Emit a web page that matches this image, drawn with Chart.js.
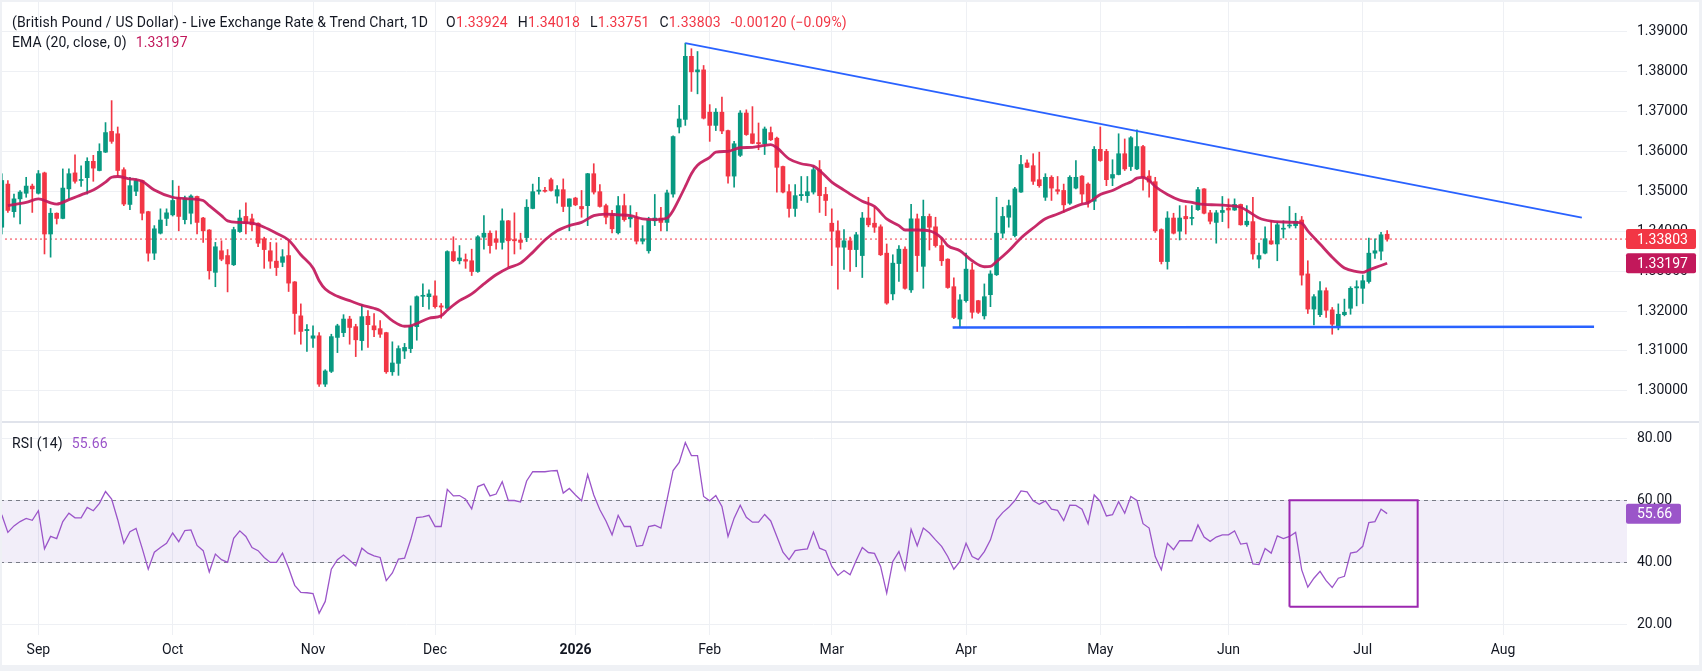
<!DOCTYPE html>
<html>
<head>
<meta charset="utf-8">
<script src="https://cdn.jsdelivr.net/npm/chart.js@4.4.0/dist/chart.umd.min.js"></script>
<style>
    body { margin: 0; background: #fff; font-family: Roboto, sans-serif; }
    #wrap { position: relative; width: 1702px; height: 671px; overflow: hidden; background: #fff; }
    #wrap canvas { position: absolute; left: 0; }
    #price { top: 0; }
    #rsi { top: 421px; }
    .legend { position: absolute; left: 12px; font-size: 14px; line-height: 18px; color: #131722; white-space: pre; letter-spacing: 0.15px; }
    .red { color: #f23645; }
    .ema { color: #c2185b; }
    .purple { color: #9b55c9; }
    .g { margin-left: 10px; }
    #frame { position: absolute; inset: 0; border: solid #eff1f5; border-width: 2px 3px 6px 2px; pointer-events: none; }
</style>
</head>
<body>
<div id="wrap">
    <canvas id="price" width="1702" height="421"></canvas>
    <canvas id="rsi" width="1702" height="250"></canvas>
    <div class="legend" style="top:13px">(British Pound / US Dollar) - Live Exchange Rate &amp; Trend Chart, 1D<span style="margin-left:18px">O<span class="red">1.33924</span></span><span class="g">H<span class="red">1.34018</span></span><span class="g">L<span class="red">1.33751</span></span><span class="g">C<span class="red">1.33803</span></span><span class="g red">-0.00120 (−0.09%)</span></div>
    <div class="legend" style="top:33px">EMA (20, close, 0)<span class="ema" style="margin-left:9px">1.33197</span></div>
    <div class="legend" style="top:434px">RSI (14)<span class="purple" style="margin-left:9px">55.66</span></div>
    <div id="frame"></div>
</div>
<script>
// bar index 0 = 1 Sep 2025, one bar per weekday
const firstBar = -6;
const monthTicks = [0, 22, 45, 65, 88, 110, 130, 152, 174, 195, 217, 240];
const monthLabels = ['Sep', 'Oct', 'Nov', 'Dec', '2026', 'Feb', 'Mar', 'Apr', 'May', 'Jun', 'Jul', 'Aug'];
const priceTicks = [1.30, 1.31, 1.32, 1.33, 1.34, 1.35, 1.36, 1.37, 1.38, 1.39];
const rsiTicks = [20, 40, 60, 80];

const opens = [
    1.3410,1.3518,1.3449,1.3481,1.3495,1.3513,1.3495,1.3546,1.3393,1.3445,
    1.3432,1.3506,1.3546,1.3527,1.3534,1.3575,1.3552,1.3598,1.3650,1.3644,
    1.3554,1.3467,1.3500,1.3527,1.3449,1.3345,1.3395,1.3432,1.3441,1.3483,
    1.3429,1.3445,1.3487,1.3433,1.3403,1.3297,1.3351,1.3339,1.3316,1.3399,
    1.3437,1.3431,1.3420,1.3381,1.3351,1.3325,1.3322,1.3339,1.3273,1.3188,
    1.3151,1.3132,1.3138,1.3017,1.3049,1.3134,1.3146,1.3180,1.3161,1.3126,
    1.3187,1.3163,1.3156,1.3146,1.3048,1.3069,1.3100,1.3106,1.3161,1.3237,
    1.3236,1.3238,1.3213,1.3207,1.3349,1.3326,1.3329,1.3326,1.3299,1.3385,
    1.3395,1.3381,1.3372,1.3426,1.3379,1.3378,1.3384,1.3457,1.3500,1.3502,
    1.3529,1.3488,1.3504,1.3462,1.3483,1.3462,1.3464,1.3544,1.3499,1.3464,
    1.3441,1.3396,1.3464,1.3431,1.3433,1.3375,1.3351,1.3426,1.3433,1.3422,
    1.3493,1.3661,1.3680,1.3838,1.3799,1.3804,1.3698,1.3665,1.3698,1.3652,
    1.3538,1.3590,1.3696,1.3644,1.3622,1.3619,1.3647,1.3633,1.3562,1.3499,
    1.3457,1.3489,1.3489,1.3498,1.3554,1.3492,1.3420,1.3401,1.3360,1.3376,
    1.3354,1.3339,1.3433,1.3420,1.3411,1.3345,1.3243,1.3319,1.3355,1.3253,
    1.3431,1.3312,1.3437,1.3411,1.3364,1.3330,1.3261,1.3180,1.3226,1.3303,
    1.3226,1.3188,1.3241,1.3291,1.3395,1.3435,1.3389,1.3498,1.3571,1.3564,
    1.3529,1.3485,1.3535,1.3504,1.3502,1.3470,1.3508,1.3538,1.3518,1.3475,
    1.3605,1.3600,1.3533,1.3542,1.3594,1.3562,1.3556,1.3612,1.3538,1.3524,
    1.3404,1.3324,1.3433,1.3400,1.3437,1.3432,1.3454,1.3506,1.3446,1.3422,
    1.3447,1.3458,1.3453,1.3467,1.3416,1.3424,1.3330,1.3345,1.3376,1.3368,
    1.3405,1.3413,1.3414,1.3428,1.3293,1.3205,1.3191,1.3251,1.3203,1.3163,
    1.3191,1.3207,1.3258,1.3257,1.3274,1.3345,1.3350,1.33924
];
const highs = [
    1.3544,1.3527,1.3493,1.3502,1.3535,1.3518,1.3552,1.3548,1.3457,1.3446,
    1.3556,1.3556,1.3591,1.3564,1.3584,1.3590,1.3619,1.3672,1.3727,1.3661,
    1.3559,1.3535,1.3531,1.3528,1.3450,1.3414,1.3456,1.3456,1.3527,1.3513,
    1.3488,1.3491,1.3488,1.3435,1.3404,1.3372,1.3376,1.3354,1.3410,1.3453,
    1.3471,1.3443,1.3421,1.3385,1.3372,1.3371,1.3354,1.3376,1.3274,1.3218,
    1.3166,1.3163,1.3146,1.3053,1.3142,1.3167,1.3191,1.3187,1.3167,1.3216,
    1.3201,1.3194,1.3176,1.3147,1.3123,1.3113,1.3119,1.3213,1.3238,1.3268,
    1.3253,1.3276,1.3219,1.3351,1.3386,1.3364,1.3343,1.3355,1.3389,1.3439,
    1.3401,1.3401,1.3456,1.3427,1.3446,1.3395,1.3479,1.3518,1.3535,1.3510,
    1.3533,1.3514,1.3531,1.3481,1.3485,1.3502,1.3545,1.3569,1.3517,1.3468,
    1.3452,1.3487,1.3493,1.3464,1.3447,1.3414,1.3435,1.3492,1.3460,1.3503,
    1.3639,1.3715,1.3871,1.3857,1.3850,1.3815,1.3717,1.3707,1.3736,1.3653,
    1.3625,1.3702,1.3704,1.3712,1.3671,1.3661,1.3661,1.3636,1.3563,1.3517,
    1.3517,1.3537,1.3537,1.3564,1.3577,1.3510,1.3456,1.3426,1.3404,1.3385,
    1.3397,1.3447,1.3485,1.3460,1.3416,1.3368,1.3341,1.3364,1.3361,1.3467,
    1.3443,1.3478,1.3443,1.3435,1.3381,1.3331,1.3283,1.3241,1.3345,1.3320,
    1.3227,1.3268,1.3301,1.3485,1.3460,1.3478,1.3510,1.3590,1.3579,1.3594,
    1.3598,1.3544,1.3539,1.3537,1.3518,1.3539,1.3577,1.3539,1.3521,1.3612,
    1.3661,1.3605,1.3579,1.3644,1.3631,1.3637,1.3654,1.3615,1.3552,1.3535,
    1.3406,1.3449,1.3445,1.3464,1.3464,1.3464,1.3510,1.3507,1.3452,1.3452,
    1.3487,1.3481,1.3481,1.3468,1.3464,1.3485,1.3370,1.3411,1.3426,1.3422,
    1.3426,1.3462,1.3445,1.3437,1.3326,1.3241,1.3274,1.3258,1.3209,1.3218,
    1.3230,1.3261,1.3276,1.3290,1.3383,1.3381,1.3397,1.34018
];
const lows = [
    1.3393,1.3447,1.3435,1.3418,1.3485,1.3447,1.3493,1.3343,1.3335,1.3418,
    1.3431,1.3481,1.3520,1.3512,1.3493,1.3525,1.3551,1.3597,1.3620,1.3539,
    1.3464,1.3454,1.3489,1.3428,1.3325,1.3329,1.3393,1.3414,1.3438,1.3401,
    1.3418,1.3418,1.3393,1.3372,1.3280,1.3261,1.3326,1.3248,1.3314,1.3397,
    1.3393,1.3401,1.3361,1.3307,1.3307,1.3289,1.3311,1.3249,1.3142,1.3117,
    1.3099,1.3109,1.3011,1.3011,1.3046,1.3096,1.3136,1.3117,1.3086,1.3102,
    1.3109,1.3136,1.3134,1.3044,1.3039,1.3039,1.3081,1.3096,1.3127,1.3211,
    1.3205,1.3207,1.3182,1.3205,1.3324,1.3318,1.3307,1.3289,1.3297,1.3355,
    1.3345,1.3355,1.3355,1.3311,1.3343,1.3355,1.3374,1.3456,1.3493,1.3498,
    1.3500,1.3470,1.3449,1.3401,1.3464,1.3435,1.3414,1.3493,1.3460,1.3418,
    1.3396,1.3393,1.3425,1.3410,1.3368,1.3368,1.3345,1.3414,1.3401,1.3401,
    1.3485,1.3646,1.3665,1.3750,1.3744,1.3681,1.3625,1.3652,1.3644,1.3520,
    1.3510,1.3587,1.3640,1.3619,1.3604,1.3592,1.3627,1.3498,1.3496,1.3435,
    1.3437,1.3477,1.3472,1.3493,1.3447,1.3439,1.3314,1.3255,1.3304,1.3299,
    1.3311,1.3284,1.3411,1.3397,1.3339,1.3217,1.3228,1.3274,1.3255,1.3247,
    1.3299,1.3257,1.3353,1.3360,1.3314,1.3257,1.3181,1.3159,1.3222,1.3182,
    1.3194,1.3180,1.3211,1.3289,1.3383,1.3410,1.3386,1.3497,1.3559,1.3517,
    1.3510,1.3477,1.3477,1.3493,1.3447,1.3467,1.3506,1.3470,1.3460,1.3454,
    1.3575,1.3514,1.3514,1.3541,1.3552,1.3552,1.3554,1.3503,1.3485,1.3397,
    1.3318,1.3305,1.3393,1.3378,1.3393,1.3416,1.3452,1.3443,1.3418,1.3370,
    1.3424,1.3408,1.3452,1.3415,1.3412,1.3330,1.3308,1.3343,1.3367,1.3326,
    1.3383,1.3408,1.3408,1.3265,1.3194,1.3165,1.3186,1.3184,1.3142,1.3153,
    1.3188,1.3192,1.3213,1.3219,1.3270,1.3332,1.3328,1.33751
];
const closes = [
    1.3527,1.3452,1.3481,1.3498,1.3513,1.3506,1.3544,1.3393,1.3445,1.3432,
    1.3508,1.3544,1.3525,1.3529,1.3575,1.3558,1.3600,1.3647,1.3625,1.3552,
    1.3468,1.3514,1.3527,1.3445,1.3345,1.3406,1.3428,1.3446,1.3477,1.3437,
    1.3483,1.3488,1.3422,1.3401,1.3301,1.3361,1.3330,1.3318,1.3404,1.3433,
    1.3420,1.3416,1.3370,1.3354,1.3325,1.3309,1.3336,1.3270,1.3194,1.3149,
    1.3154,1.3138,1.3017,1.3050,1.3136,1.3163,1.3180,1.3159,1.3128,1.3186,
    1.3166,1.3153,1.3142,1.3048,1.3070,1.3106,1.3109,1.3163,1.3236,1.3239,
    1.3243,1.3211,1.3210,1.3349,1.3326,1.3333,1.3325,1.3299,1.3386,1.3395,
    1.3364,1.3372,1.3426,1.3376,1.3376,1.3372,1.3460,1.3499,1.3503,1.3500,
    1.3502,1.3504,1.3462,1.3481,1.3466,1.3456,1.3544,1.3498,1.3462,1.3435,
    1.3406,1.3464,1.3429,1.3435,1.3375,1.3381,1.3429,1.3433,1.3422,1.3496,
    1.3637,1.3681,1.3838,1.3799,1.3804,1.3683,1.3665,1.3698,1.3651,1.3538,
    1.3619,1.3696,1.3642,1.3620,1.3619,1.3656,1.3629,1.3560,1.3498,1.3457,
    1.3489,1.3492,1.3499,1.3554,1.3489,1.3477,1.3400,1.3360,1.3376,1.3354,
    1.3391,1.3433,1.3416,1.3410,1.3341,1.3220,1.3320,1.3355,1.3257,1.3431,
    1.3339,1.3437,1.3410,1.3364,1.3326,1.3259,1.3184,1.3228,1.3305,1.3197,
    1.3197,1.3236,1.3293,1.3395,1.3437,1.3464,1.3506,1.3567,1.3560,1.3525,
    1.3514,1.3535,1.3508,1.3500,1.3466,1.3535,1.3535,1.3493,1.3474,1.3605,
    1.3577,1.3529,1.3542,1.3594,1.3556,1.3634,1.3612,1.3535,1.3523,1.3401,
    1.3324,1.3433,1.3395,1.3433,1.3431,1.3434,1.3504,1.3445,1.3425,1.3446,
    1.3452,1.3453,1.3467,1.3416,1.3425,1.3343,1.3339,1.3381,1.3368,1.3416,
    1.3406,1.3415,1.3425,1.3290,1.3205,1.3236,1.3251,1.3202,1.3167,1.3192,
    1.3197,1.3257,1.3261,1.3276,1.3345,1.3351,1.3391,1.33803
];

// EMA(20)
const emaBars = [-5,-2,0,2,3,5,7,9,11,12,13,15,16,17,19,22,25,27,28,30,31,33,35,37,39,41,43,45,46,47,49,51,53,55,56,58,60,61,62,64,66,67,69,71,73,75,77,79,81,83,85,87,89,91,93,95,97,99,101,103,104,105,106,107,108,110,111,113,115,117,119,120,121,123,125,127,128,130,132,133,135,137,139,141,142,144,146,148,149,151,153,155,156,157,159,161,163,165,167,169,171,172,174,176,178,179,180,181,182,183,185,187,189,191,193,195,197,198,200,202,204,206,207,208,210,212,214,216,217,218,220,221];
const emaValues = [1.3464,1.3472,1.3481,1.3471,1.3468,1.3479,1.3491,1.3503,1.3523,1.3535,1.3537,1.3531,1.3529,1.3525,1.3503,1.3485,1.3481,1.3477,1.3464,1.3439,1.3426,1.3422,1.3420,1.3410,1.3395,1.3378,1.3341,1.3308,1.3276,1.3255,1.3237,1.3226,1.3215,1.3207,1.3201,1.3176,1.3162,1.3163,1.3169,1.3182,1.3188,1.3202,1.3226,1.3243,1.3268,1.3291,1.3308,1.3320,1.3347,1.3378,1.3401,1.3414,1.3422,1.3439,1.3443,1.3441,1.3439,1.3431,1.3429,1.3433,1.3452,1.3481,1.3512,1.3544,1.3565,1.3585,1.3598,1.3600,1.3609,1.3610,1.3615,1.3617,1.3609,1.3581,1.3569,1.3563,1.3552,1.3523,1.3503,1.3493,1.3475,1.3462,1.3431,1.3414,1.3403,1.3403,1.3401,1.3383,1.3364,1.3351,1.3326,1.3311,1.3312,1.3324,1.3351,1.3383,1.3408,1.3431,1.3443,1.3456,1.3468,1.3471,1.3492,1.3502,1.3517,1.3523,1.3533,1.3535,1.3527,1.3512,1.3492,1.3478,1.3472,1.3467,1.3466,1.3464,1.3460,1.3452,1.3433,1.3425,1.3423,1.3422,1.3420,1.3401,1.3368,1.3335,1.3308,1.3299,1.3297,1.3303,1.3314,1.33197];

const rsiValues = [
    55.3,49.6,51.7,53.1,54.1,53.5,56.6,44.3,48.3,47.6,
    53.1,55.8,54.3,54.3,57.7,56.6,59.0,62.8,60.4,53.7,
    46.1,49.8,50.9,44.5,37.7,43.2,44.7,46.1,49.4,46.6,
    50.2,50.4,45.4,43.7,36.8,42.6,40.8,39.9,47.7,50.1,
    48.3,44.7,43.7,41.5,39.9,39.9,42.9,38.1,32.5,30.2,
    30.1,29.8,23.5,27.3,37.7,40.8,42.3,40.6,38.8,44.5,
    42.9,42.0,41.5,34.0,36.5,41.0,41.3,47.2,54.4,54.6,
    55.1,51.5,51.5,63.5,61.4,61.5,60.3,57.2,64.4,65.2,
    61.4,62.0,66.0,59.9,59.9,59.4,66.2,69.2,69.2,69.2,
    69.5,69.6,62.3,63.8,61.7,59.8,68.3,61.7,56.9,53.3,
    48.8,55.1,51.5,51.5,45.1,45.4,51.5,51.9,51.0,60.1,
    69.6,72.2,78.6,74.4,74.4,61.2,59.8,61.5,58.0,48.3,
    54.2,58.4,54.5,52.9,52.9,55.4,53.3,48.3,43.2,40.8,
    43.7,44.0,44.3,49.7,44.5,43.7,38.6,35.7,37.3,35.9,
    40.5,44.7,43.1,42.8,38.6,30.0,40.2,43.4,37.5,50.6,
    45.3,51.0,49.4,47.2,45.1,41.8,37.7,40.2,46.1,41.8,
    40.8,43.4,47.2,53.7,56.0,57.7,59.9,63.0,62.7,59.8,
    58.7,59.8,57.1,56.7,53.4,58.4,58.3,57.1,52.4,61.7,
    59.6,54.9,55.3,59.5,55.8,61.2,59.9,52.4,51.0,41.8,
    37.5,46.1,44.0,46.9,46.9,46.9,52.0,48.1,46.7,48.1,
    48.8,48.8,50.1,45.8,46.1,39.4,39.2,44.4,42.9,48.5,
    47.6,48.3,49.6,37.5,31.9,34.8,37.0,34.0,31.8,34.8,
    35.4,42.9,43.3,45.1,52.8,53.1,57.1,55.66
];

// drawings
const upperTrendBars = [106, 252.9];
const upperTrendValues = [1.3871, 1.3434];
const lowerTrendBars = [149.8, 254.9];
const lowerTrendValues = [1.3159, 1.3161];
const rsiBoxBars = [205, 226, 226, 205, 205];
const rsiBoxValues = [25.6, 25.6, 60, 60, 25.6];
const rsiBand = [40, 60];

const lastClose = 1.33803;
const lastEma = 1.33197;
const lastRsi = 55.66;

const GREEN = '#089981';
const RED = '#f23645';
const EMA_COLOR = '#c2185b';
const RSI_COLOR = '#9b55c9';
const GRID = '#eef0f4';
const TEXT = '#131722';
const FONT = { family: 'Roboto', size: 14 };
const X_MIN = -6.29, X_MAX = 260.3;

function candleColor(k) {
    return closes[k] >= opens[k] ? GREEN : RED;
}

function points(xs, ys) {
    return xs.map((x, k) => ({ x: x, y: ys[k] }));
}

function timeAxis(withLabels) {
    return {
        type: 'linear',
        min: X_MIN,
        max: X_MAX,
        offset: false,
        grid: { color: GRID, drawTicks: false, offset: false },
        border: { display: false },
        afterBuildTicks: s => { s.ticks = monthTicks.map(v => ({ value: v })); },
        ticks: {
            display: withLabels,
            autoSkip: false,
            maxRotation: 0,
            padding: 7,
            color: TEXT,
            font: c => ({ family: 'Roboto', size: 14, weight: monthLabels[c.index] === '2026' ? 'bold' : 'normal' }),
            callback: (v, i) => monthLabels[i],
        },
        afterFit: s => {
            s.height = withLabels ? 36 : 0;
            s.paddingLeft = 0;
            s.paddingRight = 0;
        },
    };
}

function valueAxis(min, max, ticks, digits) {
    return {
        position: 'right',
        min: min,
        max: max,
        grid: { color: GRID, drawTicks: false },
        border: { display: false },
        afterBuildTicks: s => { s.ticks = ticks.map(v => ({ value: v })); },
        ticks: { padding: 10, color: TEXT, font: FONT, callback: v => v.toFixed(digits) },
        afterFit: s => {
            s.width = 75;
            s.paddingTop = 0;
            s.paddingBottom = 0;
        },
    };
}

function drawTag(ctx, scale, value, color, width, digits) {
    let y = scale.getPixelForValue(value);
    ctx.save();
    ctx.fillStyle = color;
    ctx.beginPath();
    ctx.roundRect(scale.left - 1, y - 10, width, 20, 2);
    ctx.fill();
    ctx.fillStyle = '#fff';
    ctx.font = '14px Roboto';
    ctx.textBaseline = 'middle';
    ctx.fillText(value.toFixed(digits), scale.left + 10, y + 1);
    ctx.restore();
}

const priceTags = {
    id: 'priceTags',
    afterDraw(chart) {
        drawTag(chart.ctx, chart.scales.y, lastClose, RED, 70, 5);
        drawTag(chart.ctx, chart.scales.y, lastEma, EMA_COLOR, 70, 5);
    }
};

const rsiDecor = {
    id: 'rsiDecor',
    beforeDatasetsDraw(chart) {
        let { ctx, chartArea: a, scales: { y } } = chart;
        let top = Math.round(y.getPixelForValue(rsiBand[1])) + 0.5;
        let bot = Math.round(y.getPixelForValue(rsiBand[0])) + 0.5;
        ctx.save();
        ctx.fillStyle = 'rgba(126,87,194,0.1)';
        ctx.fillRect(a.left, top, a.right - a.left, bot - top);
        ctx.strokeStyle = '#787b86';
        ctx.lineWidth = 1;
        ctx.setLineDash([4, 4]);
        [top, bot].forEach(py => {
            ctx.beginPath();
            ctx.moveTo(a.left, py);
            ctx.lineTo(a.right, py);
            ctx.stroke();
        });
        ctx.restore();
    },
    afterDraw(chart) {
        let ctx = chart.ctx;
        ctx.save();
        ctx.fillStyle = '#e0e3eb';
        ctx.fillRect(0, 0, chart.width, 2);
        ctx.restore();
        drawTag(ctx, chart.scales.y, lastRsi, RSI_COLOR, 55, 2);
    }
};

const common = {
    responsive: false,
    maintainAspectRatio: false,
    animation: false,
    events: [],
    layout: { padding: 0 },
    plugins: { legend: { display: false }, tooltip: { enabled: false } },
};

let bodies = opens.map((o, k) => ({ x: firstBar + k, y: [o, closes[k]] }));
let wicks = highs.map((h, k) => ({ x: firstBar + k, y: [lows[k], h] }));

new Chart(document.getElementById('price'), {
    type: 'bar',
    data: {
        datasets: [
            {
                type: 'line',
                label: 'Upper trend',
                data: points(upperTrendBars, upperTrendValues),
                borderColor: '#2962ff',
                borderWidth: 2,
                pointRadius: 0,
                order: -3,
            },
            {
                type: 'line',
                label: 'Lower trend',
                data: points(lowerTrendBars, lowerTrendValues),
                borderColor: '#2962ff',
                borderWidth: 2.5,
                pointRadius: 0,
                order: -3,
            },
            {
                type: 'line',
                label: 'EMA',
                data: points(emaBars, emaValues),
                borderColor: 'rgba(194,24,91,0.92)',
                borderWidth: 2.8,
                pointRadius: 0,
                cubicInterpolationMode: 'monotone',
                order: -2,
            },
            {
                label: 'Body',
                data: bodies,
                backgroundColor: c => candleColor(c.dataIndex),
                barThickness: 4,
                minBarLength: 1,
                grouped: false,
                order: 0,
            },
            {
                label: 'Wick',
                data: wicks,
                backgroundColor: c => candleColor(c.dataIndex),
                barThickness: 1,
                grouped: false,
                order: 1,
            },
            {
                type: 'line',
                label: 'Last',
                data: points([X_MIN, X_MAX], [lastClose, lastClose]),
                borderColor: RED,
                borderWidth: 1,
                borderDash: [2, 3],
                pointRadius: 0,
                order: 2,
            },
        ],
    },
    options: Object.assign({}, common, {
        scales: {
            x: timeAxis(false),
            y: valueAxis(1.29247, 1.3979, priceTicks, 5),
        },
    }),
    plugins: [priceTags],
});

new Chart(document.getElementById('rsi'), {
    type: 'line',
    data: {
        datasets: [
            {
                label: 'Box',
                data: points(rsiBoxBars, rsiBoxValues),
                borderColor: '#9c27b0',
                borderWidth: 2,
                pointRadius: 0,
                order: -1,
            },
            {
                label: 'RSI',
                data: rsiValues.map((v, k) => ({ x: firstBar + k, y: v })),
                borderColor: RSI_COLOR,
                borderWidth: 1.3,
                pointRadius: 0,
                order: 0,
            },
        ],
    },
    options: Object.assign({}, common, {
        scales: {
            x: timeAxis(true),
            y: valueAxis(16.45, 85.59, rsiTicks, 2),
        },
    }),
    plugins: [rsiDecor],
});
</script>
</body>
</html>
